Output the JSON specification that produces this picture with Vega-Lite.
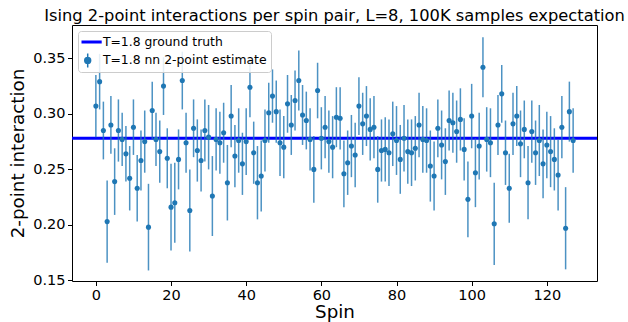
{
  "$schema": "https://vega.github.io/schema/vega-lite/v6.json",
  "width": 525,
  "height": 256,
  "autosize": "none",
  "padding": {"left": 72, "top": 25, "right": 31, "bottom": 41},
  "background": "white",
  "title": {
    "text": "Ising 2-point interactions per spin pair, L=8, 100K samples expectation",
    "font": "DejaVu Sans",
    "fontSize": 16.3,
    "fontWeight": "normal",
    "color": "black",
    "anchor": "middle",
    "baseline": "alphabetic",
    "offset": 4,
    "dy": 16
  },
  "config": {
    "view": {"stroke": "black", "strokeWidth": 1},
    "axis": {
      "domain": false,
      "grid": false,
      "tickColor": "black",
      "tickSize": 4.5,
      "labelColor": "black",
      "labelFont": "DejaVu Sans",
      "labelFontSize": 14.5,
      "labelPadding": 2.5,
      "titleFont": "DejaVu Sans",
      "titleFontSize": 18.3,
      "titleFontWeight": "normal",
      "titleColor": "black"
    }
  },
  "datasets": {
    "estimates": [
      {"spin": 0, "value": 0.307, "err": 0.028},
      {"spin": 1, "value": 0.329, "err": 0.025},
      {"spin": 2, "value": 0.285, "err": 0.026},
      {"spin": 3, "value": 0.203, "err": 0.037},
      {"spin": 4, "value": 0.290, "err": 0.026},
      {"spin": 5, "value": 0.239, "err": 0.030},
      {"spin": 6, "value": 0.285, "err": 0.028},
      {"spin": 7, "value": 0.277, "err": 0.024},
      {"spin": 8, "value": 0.264, "err": 0.025},
      {"spin": 9, "value": 0.242, "err": 0.029},
      {"spin": 10, "value": 0.288, "err": 0.025},
      {"spin": 11, "value": 0.233, "err": 0.030},
      {"spin": 12, "value": 0.258, "err": 0.027},
      {"spin": 13, "value": 0.275, "err": 0.028},
      {"spin": 14, "value": 0.198, "err": 0.039},
      {"spin": 15, "value": 0.303, "err": 0.026},
      {"spin": 16, "value": 0.277, "err": 0.024},
      {"spin": 17, "value": 0.266, "err": 0.028},
      {"spin": 18, "value": 0.325, "err": 0.026},
      {"spin": 19, "value": 0.260, "err": 0.027},
      {"spin": 20, "value": 0.216, "err": 0.039},
      {"spin": 21, "value": 0.220, "err": 0.036},
      {"spin": 22, "value": 0.259, "err": 0.027},
      {"spin": 23, "value": 0.330, "err": 0.026},
      {"spin": 24, "value": 0.274, "err": 0.027},
      {"spin": 25, "value": 0.213, "err": 0.037},
      {"spin": 26, "value": 0.287, "err": 0.026},
      {"spin": 27, "value": 0.267, "err": 0.028},
      {"spin": 28, "value": 0.258, "err": 0.028},
      {"spin": 29, "value": 0.285, "err": 0.028},
      {"spin": 30, "value": 0.279, "err": 0.029},
      {"spin": 31, "value": 0.226, "err": 0.036},
      {"spin": 32, "value": 0.277, "err": 0.028},
      {"spin": 33, "value": 0.274, "err": 0.028},
      {"spin": 34, "value": 0.283, "err": 0.027},
      {"spin": 35, "value": 0.238, "err": 0.034},
      {"spin": 36, "value": 0.298, "err": 0.028},
      {"spin": 37, "value": 0.262, "err": 0.028},
      {"spin": 38, "value": 0.276, "err": 0.029},
      {"spin": 39, "value": 0.255, "err": 0.028},
      {"spin": 40, "value": 0.275, "err": 0.030},
      {"spin": 41, "value": 0.324, "err": 0.027},
      {"spin": 42, "value": 0.265, "err": 0.028},
      {"spin": 43, "value": 0.238, "err": 0.033},
      {"spin": 44, "value": 0.244, "err": 0.032},
      {"spin": 45, "value": 0.276, "err": 0.028},
      {"spin": 46, "value": 0.301, "err": 0.027},
      {"spin": 47, "value": 0.316, "err": 0.024},
      {"spin": 48, "value": 0.302, "err": 0.028},
      {"spin": 49, "value": 0.274, "err": 0.030},
      {"spin": 50, "value": 0.270, "err": 0.028},
      {"spin": 51, "value": 0.309, "err": 0.026},
      {"spin": 52, "value": 0.290, "err": 0.027},
      {"spin": 53, "value": 0.312, "err": 0.027},
      {"spin": 54, "value": 0.330, "err": 0.027},
      {"spin": 55, "value": 0.299, "err": 0.027},
      {"spin": 56, "value": 0.294, "err": 0.026},
      {"spin": 57, "value": 0.277, "err": 0.028},
      {"spin": 58, "value": 0.250, "err": 0.030},
      {"spin": 59, "value": 0.321, "err": 0.025},
      {"spin": 60, "value": 0.278, "err": 0.028},
      {"spin": 61, "value": 0.288, "err": 0.028},
      {"spin": 62, "value": 0.275, "err": 0.028},
      {"spin": 63, "value": 0.270, "err": 0.028},
      {"spin": 64, "value": 0.297, "err": 0.027},
      {"spin": 65, "value": 0.296, "err": 0.028},
      {"spin": 66, "value": 0.246, "err": 0.030},
      {"spin": 67, "value": 0.256, "err": 0.029},
      {"spin": 68, "value": 0.271, "err": 0.028},
      {"spin": 69, "value": 0.263, "err": 0.029},
      {"spin": 70, "value": 0.307, "err": 0.026},
      {"spin": 71, "value": 0.291, "err": 0.028},
      {"spin": 72, "value": 0.298, "err": 0.027},
      {"spin": 73, "value": 0.286, "err": 0.028},
      {"spin": 74, "value": 0.288, "err": 0.028},
      {"spin": 75, "value": 0.250, "err": 0.030},
      {"spin": 76, "value": 0.267, "err": 0.028},
      {"spin": 77, "value": 0.268, "err": 0.029},
      {"spin": 78, "value": 0.265, "err": 0.030},
      {"spin": 79, "value": 0.282, "err": 0.029},
      {"spin": 80, "value": 0.276, "err": 0.031},
      {"spin": 81, "value": 0.259, "err": 0.031},
      {"spin": 82, "value": 0.278, "err": 0.030},
      {"spin": 83, "value": 0.266, "err": 0.029},
      {"spin": 84, "value": 0.265, "err": 0.030},
      {"spin": 85, "value": 0.269, "err": 0.029},
      {"spin": 86, "value": 0.290, "err": 0.029},
      {"spin": 87, "value": 0.277, "err": 0.030},
      {"spin": 88, "value": 0.276, "err": 0.029},
      {"spin": 89, "value": 0.253, "err": 0.032},
      {"spin": 90, "value": 0.244, "err": 0.031},
      {"spin": 91, "value": 0.287, "err": 0.026},
      {"spin": 92, "value": 0.272, "err": 0.031},
      {"spin": 93, "value": 0.257, "err": 0.030},
      {"spin": 94, "value": 0.294, "err": 0.027},
      {"spin": 95, "value": 0.292, "err": 0.027},
      {"spin": 96, "value": 0.284, "err": 0.028},
      {"spin": 97, "value": 0.295, "err": 0.028},
      {"spin": 98, "value": 0.268, "err": 0.028},
      {"spin": 99, "value": 0.223, "err": 0.034},
      {"spin": 100, "value": 0.298, "err": 0.029},
      {"spin": 101, "value": 0.247, "err": 0.031},
      {"spin": 102, "value": 0.271, "err": 0.030},
      {"spin": 103, "value": 0.342, "err": 0.027},
      {"spin": 104, "value": 0.277, "err": 0.029},
      {"spin": 105, "value": 0.274, "err": 0.031},
      {"spin": 106, "value": 0.201, "err": 0.037},
      {"spin": 107, "value": 0.290, "err": 0.027},
      {"spin": 108, "value": 0.318, "err": 0.026},
      {"spin": 109, "value": 0.265, "err": 0.029},
      {"spin": 110, "value": 0.233, "err": 0.031},
      {"spin": 111, "value": 0.291, "err": 0.028},
      {"spin": 112, "value": 0.298, "err": 0.027},
      {"spin": 113, "value": 0.273, "err": 0.030},
      {"spin": 114, "value": 0.286, "err": 0.026},
      {"spin": 115, "value": 0.238, "err": 0.033},
      {"spin": 116, "value": 0.284, "err": 0.028},
      {"spin": 117, "value": 0.265, "err": 0.029},
      {"spin": 118, "value": 0.276, "err": 0.032},
      {"spin": 119, "value": 0.255, "err": 0.031},
      {"spin": 120, "value": 0.272, "err": 0.030},
      {"spin": 121, "value": 0.266, "err": 0.032},
      {"spin": 122, "value": 0.259, "err": 0.028},
      {"spin": 123, "value": 0.245, "err": 0.032},
      {"spin": 124, "value": 0.288, "err": 0.028},
      {"spin": 125, "value": 0.197, "err": 0.037},
      {"spin": 126, "value": 0.302, "err": 0.027},
      {"spin": 127, "value": 0.276, "err": 0.029}
    ],
    "truth": [{"truth": 0.278}]
  },
  "layer": [
    {
      "data": {"name": "truth"},
      "mark": {"type": "rule", "color": "#0000ff", "strokeWidth": 3},
      "encoding": {
        "y": {
          "field": "truth",
          "type": "quantitative",
          "title": "2-point interaction",
          "scale": {"domain": [0.1495, 0.38], "nice": false, "zero": false}
        }
      }
    },
    {
      "data": {"name": "estimates"},
      "mark": {"type": "errorbar", "color": "#1f77b4", "thickness": 1.5, "opacity": 0.8},
      "encoding": {
        "x": {"field": "spin", "type": "quantitative", "title": "Spin"},
        "y": {"field": "value", "type": "quantitative", "title": "2-point interaction"},
        "yError": {"field": "err"}
      }
    },
    {
      "data": {"name": "estimates"},
      "mark": {"type": "point", "shape": "circle", "filled": true, "size": 26, "opacity": 1},
      "encoding": {
        "x": {
          "field": "spin",
          "type": "quantitative",
          "title": "Spin",
          "scale": {"domain": [-6.35, 133.35], "nice": false, "zero": false},
          "axis": {"values": [0, 20, 40, 60, 80, 100, 120], "titlePadding": 2}
        },
        "y": {
          "field": "value",
          "type": "quantitative",
          "title": "2-point interaction",
          "axis": {"values": [0.15, 0.2, 0.25, 0.3, 0.35], "format": ".2f", "titlePadding": 5}
        },
        "color": {
          "datum": "T=1.8 nn 2-point estimate",
          "type": "nominal",
          "scale": {
            "domain": ["T=1.8 ground truth", "T=1.8 nn 2-point estimate"],
            "range": ["#0000ff", "#1f77b4"]
          },
          "legend": {
            "title": null,
            "orient": "top-left",
            "offset": 6,
            "padding": 3.5,
            "fillColor": "rgba(255,255,255,0.85)",
            "strokeColor": "#cccccc",
            "cornerRadius": 3,
            "symbolSize": 784,
            "clipHeight": 15,
            "rowPadding": 3.4,
            "labelFont": "DejaVu Sans",
            "labelFontSize": 12.4,
            "labelColor": "black",
            "labelOffset": 9,
            "labelLimit": 400,
            "encoding": {
              "symbols": {
                "shape": {"value": {"expr": "datum.value == 'T=1.8 ground truth' ? 'stroke' : 'M0,-0.5L0,0.5M0.21,0A0.21,0.21 0 1,1 -0.21,0A0.21,0.21 0 1,1 0.21,0Z'"}},
                "stroke": {"value": {"expr": "datum.value == 'T=1.8 ground truth' ? '#0000ff' : '#1f77b4'"}},
                "fill": {"value": {"expr": "datum.value == 'T=1.8 ground truth' ? 'transparent' : '#1f77b4'"}},
                "strokeWidth": {"value": {"expr": "datum.value == 'T=1.8 ground truth' ? 3 : 1.5"}},
                "opacity": {"value": 1}
              }
            }
          }
        }
      }
    }
  ]
}
